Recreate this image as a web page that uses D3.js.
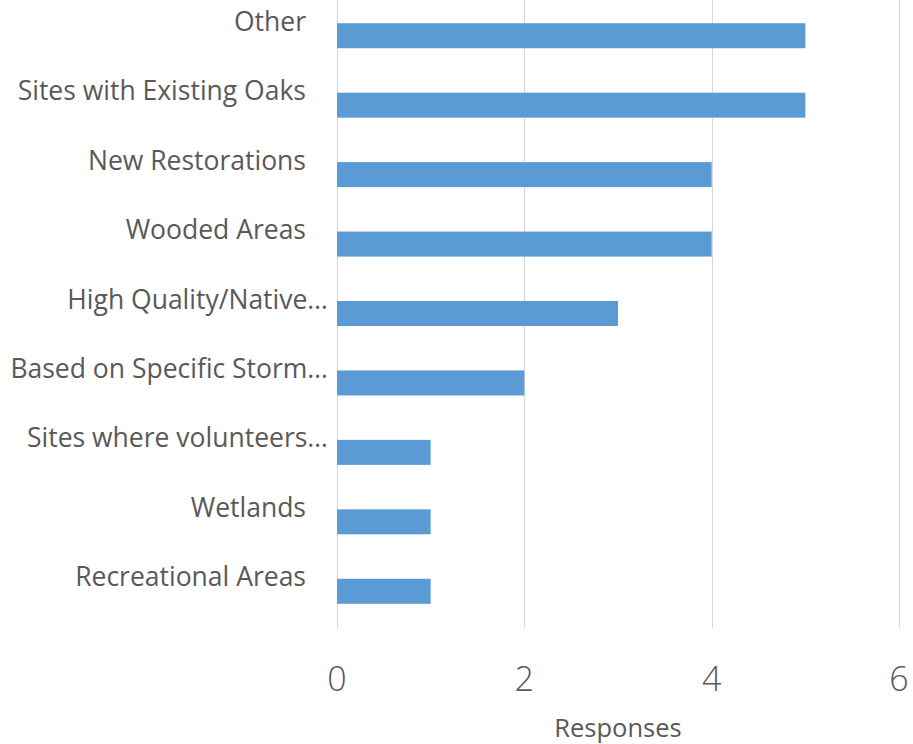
<!DOCTYPE html>
<html>
<head>
<meta charset="utf-8">
<script src="https://cdn.jsdelivr.net/npm/d3@7"></script>
<style>
  html, body { margin: 0; padding: 0; background: #ffffff; }
  svg { display: block; }
  text { font-family: "Open Sans", "Noto Sans", sans-serif; fill: #595959; }
</style>
</head>
<body>
<svg id="chart" width="913" height="744"></svg>
<script>
// Survey responses per site type (top to bottom as drawn)
const categories = [
  "Other",
  "Sites with Existing Oaks",
  "New Restorations",
  "Wooded Areas",
  "High Quality/Native…",
  "Based on Specific Storm…",
  "Sites where volunteers…",
  "Wetlands",
  "Recreational Areas"
];
const responses = [5, 5, 4, 4, 3, 2, 1, 1, 1];
const xTicks = [0, 2, 4, 6];
const xAxisTitle = "Responses";

const svg = d3.select("#chart");

const plotTop = 1, plotBottom = 626, gridBottom = 628;
const x = d3.scaleLinear().domain([0, 6]).range([337, 899]);
const y = d3.scaleBand()
  .domain(categories)
  .range([plotTop, plotBottom])
  .paddingInner(0.64)
  .paddingOuter(0.32);

// vertical gridlines
svg.append("g")
  .selectAll("line")
  .data(xTicks)
  .join("line")
  .attr("x1", d => Math.round(x(d)) + 0.5)
  .attr("x2", d => Math.round(x(d)) + 0.5)
  .attr("y1", 0)
  .attr("y2", gridBottom)
  .attr("stroke", "#d9d9d9")
  .attr("stroke-width", 1.2);

// bars
svg.append("g")
  .selectAll("rect")
  .data(categories)
  .join("rect")
  .attr("x", x(0))
  .attr("y", d => y(d))
  .attr("width", (d, i) => x(responses[i]) - x(0))
  .attr("height", y.bandwidth())
  .attr("fill", "#5b9bd5");

// category labels, sitting slightly above each bar
svg.append("g")
  .selectAll("text")
  .data(categories)
  .join("text")
  .attr("x", d => d.endsWith("…") ? 328 : 306)
  .attr("y", d => y(d) + y.bandwidth() / 2 - 5)
  .attr("text-anchor", "end")
  .style("font-size", "26.5px")
  .text(d => d);

// x tick labels
svg.append("g")
  .selectAll("text")
  .data(xTicks)
  .join("text")
  .attr("x", d => x(d))
  .attr("y", 691)
  .attr("text-anchor", "middle")
  .style("font-size", "34px")
  .style("font-weight", 300)
  .text(d => d3.format("d")(d));

// axis title
svg.append("text")
  .attr("x", (x(0) + x(6)) / 2)
  .attr("y", 737)
  .attr("text-anchor", "middle")
  .style("font-size", "25.5px")
  .text(xAxisTitle);
</script>
</body>
</html>
